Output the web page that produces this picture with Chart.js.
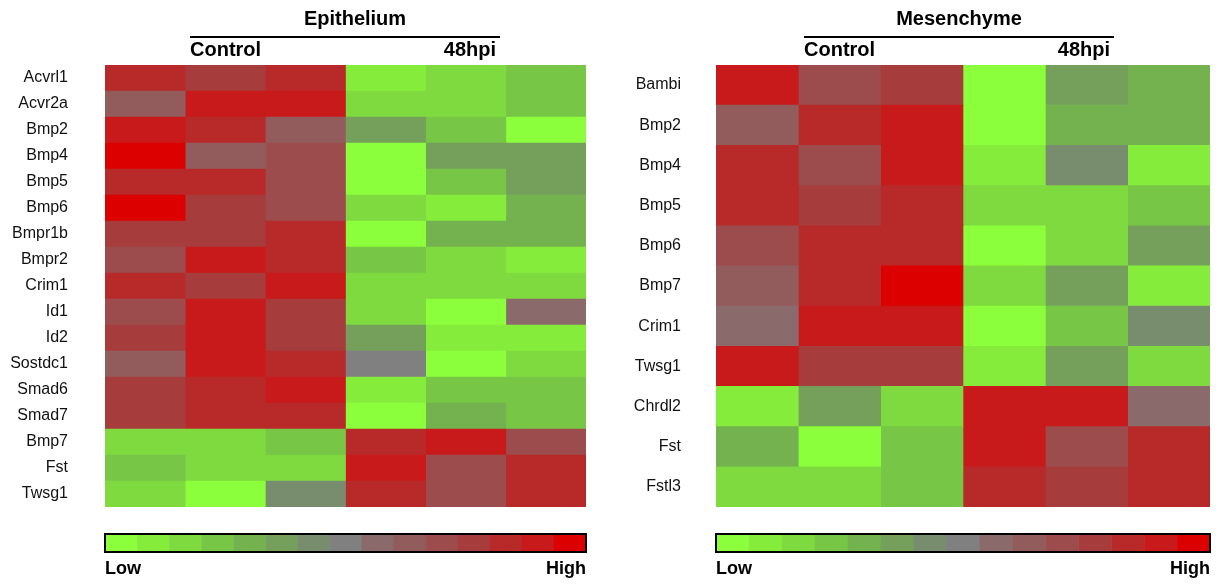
<!DOCTYPE html>
<html>
<head>
<meta charset="utf-8">
<script src="https://cdn.jsdelivr.net/npm/chart.js@4"></script>
<style>
  body { margin: 0; background: #fff; width: 1221px; height: 585px; position: relative; overflow: hidden; }
  canvas { position: absolute; top: 0; }
</style>
</head>
<body>
<canvas id="epi" width="610" height="585" style="left:0"></canvas>
<canvas id="mes" width="611" height="585" style="left:610px"></canvas>
<script>
// columns: 3 control samples, 3 samples at 48hpi
const columns = ['Control 1', 'Control 2', 'Control 3', '48hpi 1', '48hpi 2', '48hpi 3'];

// expression level, -7 (low) .. 7 (high)
const epiGenes = ['Acvrl1', 'Acvr2a', 'Bmp2', 'Bmp4', 'Bmp5', 'Bmp6', 'Bmpr1b', 'Bmpr2', 'Crim1',
  'Id1', 'Id2', 'Sostdc1', 'Smad6', 'Smad7', 'Bmp7', 'Fst', 'Twsg1'];
const epiValues = [
  [5, 4, 5, -6, -5, -4],
  [2, 6, 6, -5, -5, -4],
  [6, 5, 2, -2, -4, -7],
  [7, 2, 3, -7, -2, -2],
  [5, 5, 3, -7, -4, -2],
  [7, 4, 3, -5, -6, -3],
  [4, 4, 5, -7, -3, -3],
  [3, 6, 5, -4, -5, -6],
  [5, 4, 6, -5, -5, -5],
  [3, 6, 4, -5, -7, 1],
  [4, 6, 4, -2, -6, -6],
  [2, 6, 5, 0, -7, -5],
  [4, 5, 6, -6, -4, -4],
  [4, 5, 5, -7, -3, -4],
  [-5, -5, -4, 5, 6, 3],
  [-4, -5, -5, 6, 3, 5],
  [-5, -7, -1, 5, 3, 5]
];

const mesGenes = ['Bambi', 'Bmp2', 'Bmp4', 'Bmp5', 'Bmp6', 'Bmp7', 'Crim1', 'Twsg1', 'Chrdl2', 'Fst', 'Fstl3'];
const mesValues = [
  [6, 3, 4, -7, -2, -3],
  [2, 5, 6, -7, -3, -3],
  [5, 3, 6, -6, -1, -6],
  [5, 4, 5, -5, -5, -4],
  [3, 5, 5, -7, -5, -2],
  [2, 5, 7, -5, -2, -6],
  [1, 6, 6, -7, -4, -1],
  [6, 4, 4, -6, -2, -5],
  [-6, -2, -5, 6, 6, 1],
  [-3, -7, -4, 6, 3, 5],
  [-5, -5, -4, 5, 4, 5]
];

// colour key, low (green) -> grey -> high (red)
const palette = ['#8cff3c', '#86ec3c', '#7fda40', '#78c646', '#73b24e', '#74a05c', '#788d6e', '#808080',
  '#8a6a6a', '#925c5c', '#9c4c4c', '#a63c3c', '#b82a2a', '#c81a1a', '#dc0000'];

function colourFor(v) {
  return palette[Math.max(0, Math.min(palette.length - 1, v + 7))];
}

Chart.defaults.font.family = '"Liberation Sans", Arial, sans-serif';

const heatDecor = {
  id: 'heatDecor',
  afterDraw(chart, args, opts) {
    const { ctx, chartArea: a } = chart;
    ctx.save();
    ctx.fillStyle = '#000';
    ctx.strokeStyle = '#000';
    ctx.textBaseline = 'middle';

    // group header
    const x1 = a.left + opts.lineFrom, x2 = a.right - opts.lineTo;
    ctx.font = 'bold 20px "Liberation Sans", Arial, sans-serif';
    ctx.textAlign = 'center';
    ctx.fillText(opts.title, (x1 + x2) / 2 + opts.titleShift, 19);
    ctx.lineWidth = 2;
    ctx.beginPath();
    ctx.moveTo(x1, 37);
    ctx.lineTo(x2, 37);
    ctx.stroke();
    ctx.textAlign = 'left';
    ctx.fillText('Control', x1, 50);
    ctx.textAlign = 'right';
    ctx.fillText('48hpi', x2 - 4, 50);

    // colour key
    const top = a.bottom + 27, h = 18;
    const w = (a.right - a.left) / palette.length;
    palette.forEach((c, i) => {
      ctx.fillStyle = c;
      ctx.fillRect(a.left + i * w, top, w + 0.5, h);
    });
    ctx.strokeRect(a.left, top, a.right - a.left, h);
    ctx.fillStyle = '#000';
    ctx.font = 'bold 18px "Liberation Sans", Arial, sans-serif';
    ctx.textAlign = 'left';
    ctx.fillText('Low', a.left, top + h + 17);
    ctx.textAlign = 'right';
    ctx.fillText('High', a.right, top + h + 17);
    ctx.restore();
  }
};

function heatmap(id, genes, values, decor, axisWidth, tickPad, padRight) {
  const datasets = columns.map((col, c) => ({
    label: col,
    data: genes.map(() => [c, c + 1]),
    backgroundColor: values.map(row => colourFor(row[c])),
    grouped: false,
    barPercentage: 1,
    categoryPercentage: 1,
    borderWidth: 0
  }));

  new Chart(document.getElementById(id), {
    type: 'bar',
    data: { labels: genes, datasets: datasets },
    plugins: [heatDecor],
    options: {
      indexAxis: 'y',
      responsive: false,
      animation: false,
      layout: { padding: { top: 65, bottom: 78, left: 0, right: padRight } },
      plugins: {
        legend: { display: false },
        tooltip: { enabled: true },
        heatDecor: decor
      },
      scales: {
        x: { type: 'linear', min: 0, max: 6, display: false },
        y: {
          grid: { display: false },
          border: { display: false },
          ticks: { color: '#111', padding: tickPad, font: { size: 16 } },
          afterFit: (scale) => { scale.width = axisWidth; }
        }
      }
    }
  });
}

heatmap('epi', epiGenes, epiValues, { title: 'Epithelium', lineFrom: 85, lineTo: 86, titleShift: 10 }, 105, 29, 24);
heatmap('mes', mesGenes, mesValues, { title: 'Mesenchyme', lineFrom: 88, lineTo: 96, titleShift: 0 }, 106, 27, 11);
</script>
</body>
</html>
